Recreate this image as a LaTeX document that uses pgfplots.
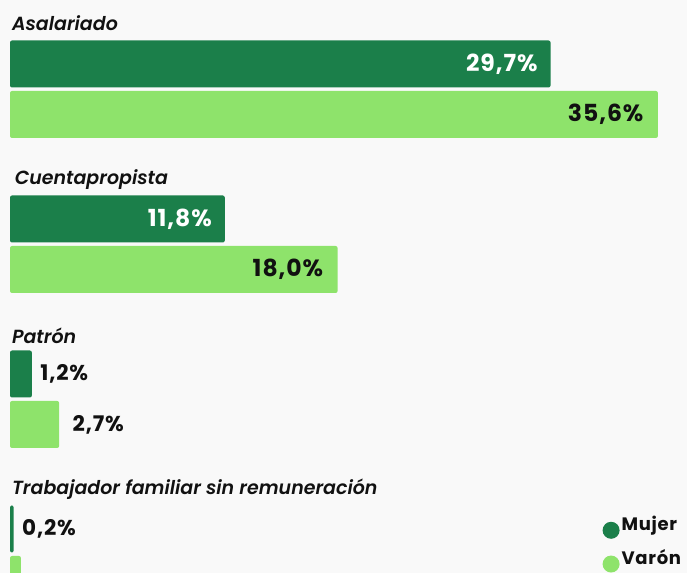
\documentclass[border=0pt]{standalone}
\usepackage{fontspec}
\setmainfont{Poppins}[BoldFont={Poppins SemiBold}, BoldItalicFont={Poppins SemiBold Italic}]
\newfontfamily\valfont{Poppins Bold}[LetterSpace=4]
\usepackage{pgfplots}
\pgfplotsset{compat=1.18}
\definecolor{mujer}{HTML}{1B7F4A}
\definecolor{varon}{HTML}{8EE36B}
\definecolor{bg}{HTML}{F9F9F9}
\definecolor{ink}{HTML}{111111}

\begin{document}
\begin{tikzpicture}
  \useasboundingbox (0,0) rectangle (687bp,573bp);
  % y is in pixels measured down from the top edge, so written negative
  \begin{axis}[
      scale only axis, width=687bp, height=573bp,
      xmin=-0.55, xmax=37.2, ymin=-573, ymax=0,
      axis lines=none, ticks=none,
      axis background/.style={fill=bg},
      bar width=47,
      bars/.style={xbar, bar shift=0pt, draw=none, rounded corners=2bp, forget plot},
      point meta=x,
      legend style={at={(axis description cs:0.999,-0.003)}, anchor=south east,
        draw=none, fill=none, row sep=9bp,
        font=\fontsize{18bp}{19bp}\selectfont\valfont, text=ink},
      legend cell align=left,
      dot/.style={legend image code/.code={%
        \node[circle, fill=#1, inner sep=0pt, minimum size=17bp] at (0bp,-6bp) {};}},
      lbl/.style={nodes near coords={\pgfmathprintnumber[use comma,fixed,fixed zerofill,precision=1,assume math mode=true]{\pgfplotspointmeta}\%},
        every node near coord/.append style={font=\fontsize{#1}{#1}\selectfont\valfont}},
    ]
    % Mujer, label inside
    \addplot[bars, fill=mujer, lbl=23.5bp, every node near coord/.append style={anchor=east, xshift=-9.5bp, text=white}]
      coordinates {(29.7,-64) (11.8,-219)};
    % Mujer, label outside
    \addplot[bars, fill=mujer, lbl=21.5bp, every node near coord/.append style={anchor=west, xshift=5bp, text=ink}]
      coordinates {(1.2,-374) (0.2,-529)};
    % Varon, label inside
    \addplot[bars, fill=varon, lbl=23.5bp, every node near coord/.append style={anchor=east, xshift=-11bp, text=ink}]
      coordinates {(35.6,-114.5) (18.0,-269.5)};
    % Varon, label outside
    \addplot[bars, fill=varon, lbl=21.5bp, every node near coord/.append style={anchor=west, xshift=10bp, text=ink}]
      coordinates {(2.7,-424.5)};
    \addplot[bars, fill=varon] coordinates {(0.6,-579.5)};

    \addlegendimage{dot=mujer}
    \addlegendentry{Mujer}
    \addlegendimage{dot=varon}
    \addlegendentry{Varón}

    \begin{scope}[font=\fontsize{19bp}{21bp}\selectfont\bfseries\itshape, text=ink]
      \node[anchor=base west, inner sep=0pt] at (axis cs:0.1,-31) {Asalariado};
      \node[anchor=base west, inner sep=0pt] at (axis cs:0.25,-185) {Cuentapropista};
      \node[anchor=base west, inner sep=0pt] at (axis cs:0.1,-344) {Patrón};
      \node[anchor=base west, inner sep=0pt] at (axis cs:0.1,-495) {Trabajador familiar sin remuneración};
    \end{scope}
  \end{axis}
\end{tikzpicture}
\end{document}
